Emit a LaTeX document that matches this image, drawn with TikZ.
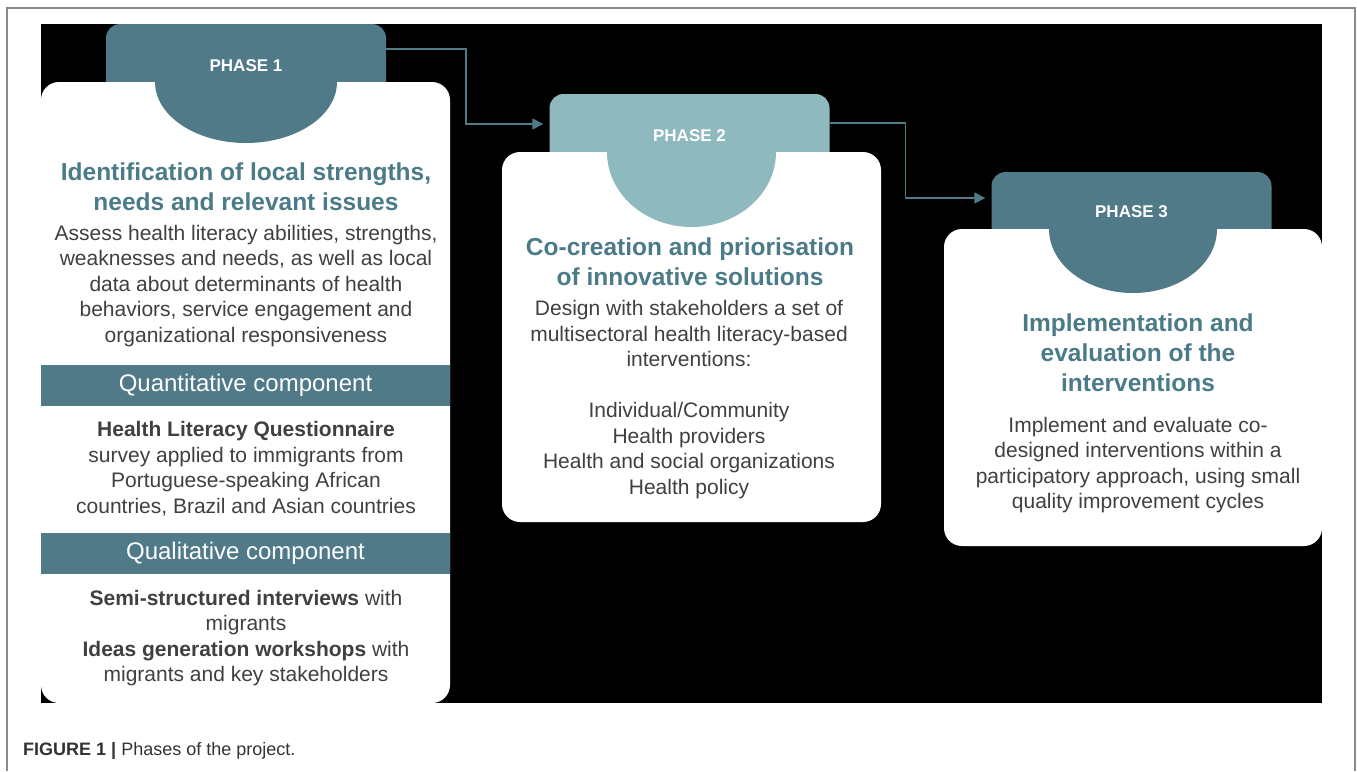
\documentclass[tikz,border=0pt]{standalone}
\usepackage{fontspec}
\setmainfont{Liberation Sans}
\usetikzlibrary{arrows.meta,calc}
\definecolor{tealdark}{HTML}{507A87}
\definecolor{teallight}{HTML}{8EB9BE}
\definecolor{titlecol}{HTML}{4B7B88}
\definecolor{bodycol}{HTML}{404040}
\definecolor{framecol}{HTML}{8A8A8A}
\definecolor{captcol}{HTML}{333333}
\newcommand{\mybump}[5]{%
  \fill[#5] (#1-#3,#2-2) -- (#1-#3,#2)
    .. controls (#1-#3,#2+0.5523*#4) and (#1-0.5523*#3,#2+#4) .. (#1,#2+#4)
    .. controls (#1+0.5523*#3,#2+#4) and (#1+#3,#2+0.5523*#4) .. (#1+#3,#2)
    -- (#1+#3,#2-2) -- cycle;}
\begin{document}
\begin{tikzpicture}[x=1pt,y=-1pt,
  phasetab/.style={fill=#1, rounded corners=14pt, minimum width=280pt, inner sep=0pt,
    text=white, font=\fontsize{17}{20}\selectfont\bfseries},
  card/.style={fill=white, rounded corners=18pt, inner sep=0pt},
  ttl/.style={text=titlecol, font=\fontsize{24.5}{30}\selectfont\bfseries, align=center, inner sep=0pt},
  body/.style={text=bodycol, font=\fontsize{21}{25.5}\selectfont, align=center, inner sep=0pt},
  bar/.style={fill=tealdark, minimum width=409pt, minimum height=41pt, inner sep=0pt,
    text=white, font=\fontsize{24}{28}\selectfont},
  flow/.style={draw=tealdark, line width=1.5pt, -{Triangle[length=11pt,width=11pt]}, shorten >=6pt}
]
% page and bounding box
\fill[white] (0,0) rectangle (1357,771);
\useasboundingbox (0,0) rectangle (1357,771);
\draw[framecol, line width=1.2pt] (7,771) -- (7,8) -- (1355,8) -- (1355,771);
% black panel
\fill[black] (41,24) rectangle (1322,703);

% tabs
\node[phasetab=tealdark, minimum height=84pt] (tab1) at (246,66) {PHASE 1};
\node[phasetab=teallight, minimum height=84pt] (tab2) at (689.5,136) {PHASE 2};
\node[phasetab=tealdark, minimum height=80pt] (tab3) at (1131.5,212) {PHASE 3};

% cards
\node[card, minimum width=409pt, minimum height=621pt] (card1) at (245.5,392.5) {};
\node[card, minimum width=379pt, minimum height=370pt] (card2) at (691.5,337) {};
\node[card, minimum width=378pt, minimum height=317pt] (card3) at (1133,387.5) {};

% bumps
\mybump{246}{82}{91}{61}{tealdark}
\mybump{691.5}{152}{84.5}{75}{teallight}
\mybump{1133}{229}{84}{64}{tealdark}

% connectors
\draw[flow] ([yshift=17pt]tab1.east) -- ++(80,0) |- ([yshift=12pt]tab2.west);
\draw[flow] ([yshift=13pt]tab2.east) -- ++(76,0) |- ([yshift=14pt]tab3.west);

% phase 1 content
\node[ttl] (t1title) at (246,187) {Identification of local strengths,\\needs and relevant issues};
\node[body] (t1body) at (246,286) {Assess health literacy abilities, strengths,\\weaknesses and needs, as well as local\\data about determinants of health\\behaviors, service engagement and\\organizational responsiveness};
\node[bar] (bar1) at (245.5,385.5) {Quantitative component};
\node[body] (t1quant) at (246,468.5) {\textbf{Health Literacy Questionnaire}\\survey applied to immigrants from\\Portuguese-speaking African\\countries, Brazil and Asian countries};
\node[bar] (bar2) at (245.5,553.5) {Qualitative component};
\node[body] (t1qual) at (246,638) {\textbf{Semi-structured interviews} with\\migrants\\\textbf{Ideas generation workshops} with\\migrants and key stakeholders};

% phase 2 content
\node[ttl] (t2title) at (690,262) {Co-creation and priorisation\\of innovative solutions};
\node[body] (t2body) at (689,399.5) {Design with stakeholders a set of\\multisectoral health literacy-based\\interventions:\\[25.5pt]Individual/Community\\Health providers\\Health and social organizations\\Health policy};

% phase 3 content
\node[ttl] (t3title) at (1138,352.5) {Implementation and\\evaluation of the\\interventions};
\node[body] (t3body) at (1138,465) {Implement and evaluate co-\\designed interventions within a\\participatory approach, using small\\quality improvement cycles};

% caption
\node[anchor=west, inner sep=0pt, text=captcol, font=\fontsize{18}{22}\selectfont] (caption) at (23,751) {\textbf{FIGURE 1 |} Phases of the project.};
\end{tikzpicture}
\end{document}
